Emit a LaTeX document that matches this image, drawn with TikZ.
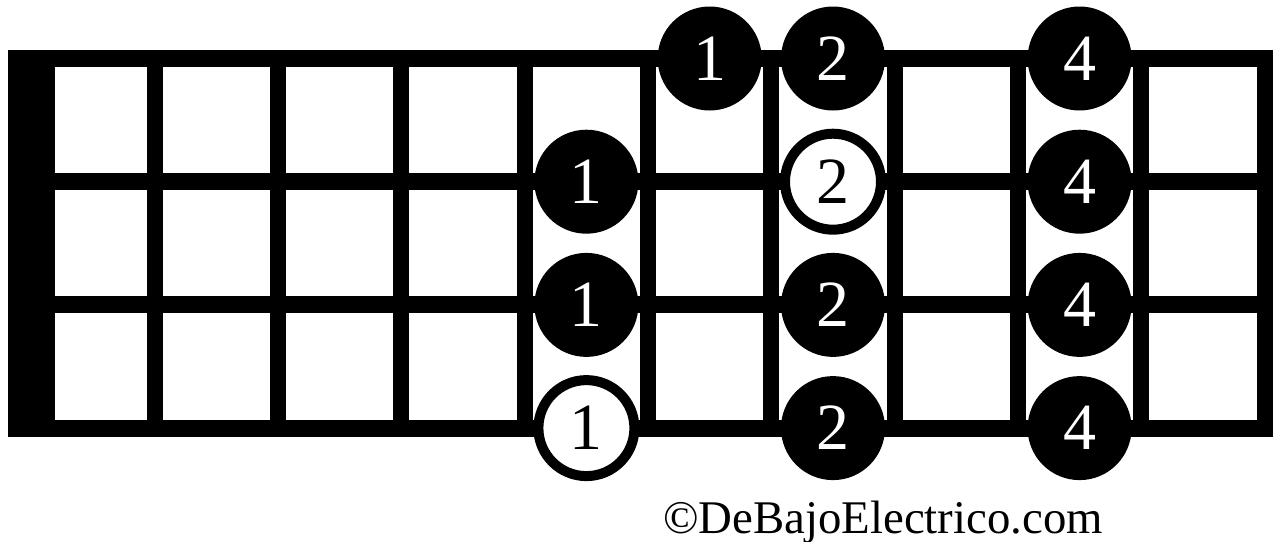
\documentclass[tikz,border=0pt]{standalone}
\usepackage{fontspec}
\setmainfont{Liberation Serif}
\usepackage{tikz}
\usetikzlibrary{positioning}

\tikzset{
	fretline/.style={line width=8pt},
	stringline/.style={line width=8.5pt},
	finger/.style={circle, fill=black, text=white, minimum size=52pt, inner sep=0pt,
		font=\fontsize{33}{33}\selectfont},
	openfinger/.style={circle, draw=black, line width=5pt, fill=white, text=black,
		minimum size=48pt, inner sep=0pt, font=\fontsize{33}{33}\selectfont},
}

\begin{document}
\begin{tikzpicture}[x=0.5pt, y=-0.5pt]
	\useasboundingbox (0,0) rectangle (1280,541);

	% nut
	\fill[black] (8,50) rectangle (55,437);
	% strings
	\foreach \s in {0,...,3}
		\draw[stringline] (8,{58.5+123.2*\s}) -- (1273,{58.5+123.2*\s});
	% frets
	\foreach \f in {1,...,10}
		\draw[fretline] ({31.5+123.3*\f},50) -- ({31.5+123.3*\f},437);

	% fingers, string 1
	\node[finger] (s1c6) at (709.7,58.5) {1};
	\node[finger] (s1c7) at (833,58.5) {2};
	\node[finger] (s1c9) at (1079.6,58.5) {4};
	% string 2
	\node[finger] (s2c5) at (586.4,181.7) {1};
	\node[openfinger] (s2c7) at (833,181.7) {2};
	\node[finger] (s2c9) at (1079.6,181.7) {4};
	% string 3
	\node[finger] (s3c5) at (586.4,304.9) {1};
	\node[finger] (s3c7) at (833,304.9) {2};
	\node[finger] (s3c9) at (1079.6,304.9) {4};
	% string 4
	\node[openfinger] (s4c5) at (586.4,428.1) {1};
	\node[finger] (s4c7) at (833,428.1) {2};
	\node[finger] (s4c9) at (1079.6,428.1) {4};

	\node[anchor=base, inner sep=0pt, font=\fontsize{23.4}{24}\selectfont] (copy) at (883,533) {©DeBajoElectrico.com};
\end{tikzpicture}
\end{document}
